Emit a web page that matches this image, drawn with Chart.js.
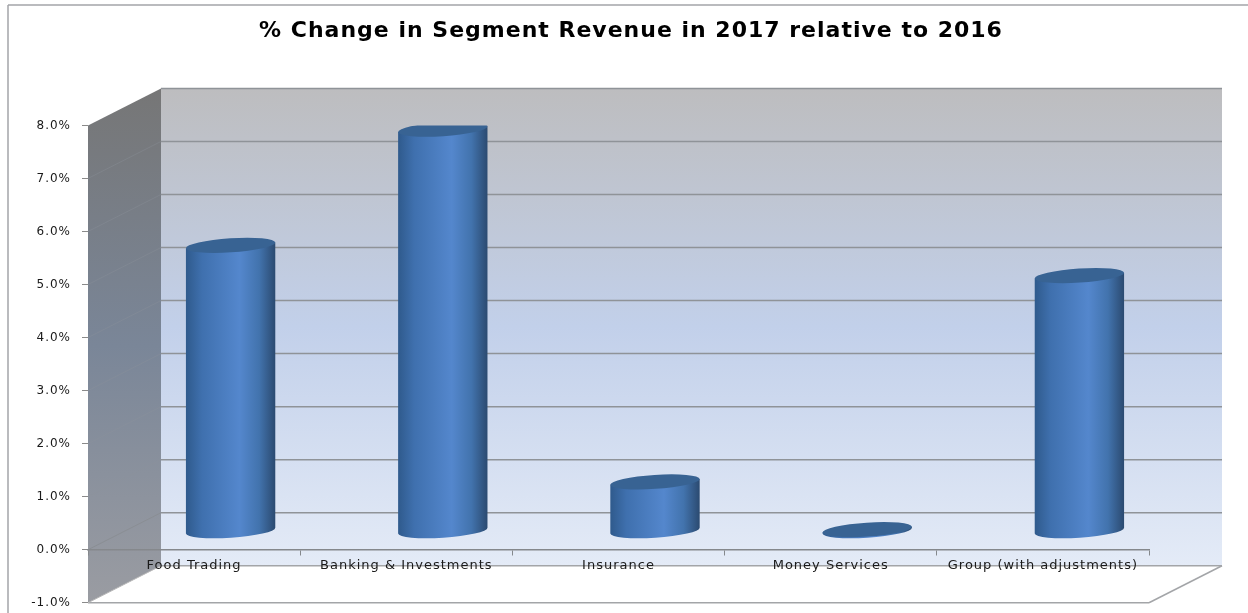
<!DOCTYPE html>
<html>
<head>
<meta charset="utf-8">
<title>Segment revenue</title>
<script src="https://cdn.jsdelivr.net/npm/chart.js@4/dist/chart.umd.min.js"></script>
<style>
    html, body { margin: 0; padding: 0; background: #fff; }
    canvas { display: block; }
</style>
</head>
<body>
<canvas id="revenueChart" width="1248" height="613"></canvas>
<script>
const chartTitle = '% Change in Segment Revenue in 2017 relative to 2016';
const categories = ['Food Trading', 'Banking & Investments', 'Insurance', 'Money Services', 'Group (with adjustments)'];
const revenueChange = [5.39, 7.58, 0.93, 0.03, 4.82];
const axisMin = -1;
const axisMax = 8;

// offset of the back wall from the front plane
const depthX = 73;
const depthY = 37;

const lineGrey = '#a3a5a8';
const gridGrey = '#8f9398';
const textSpacing = '1px';

function line(ctx, x1, y1, x2, y2, color, width) {
    ctx.strokeStyle = color;
    ctx.lineWidth = width;
    ctx.beginPath();
    ctx.moveTo(x1, y1);
    ctx.lineTo(x2, y2);
    ctx.stroke();
}

// outer frame, side wall, back wall and floor
const wallsPlugin = {
    id: 'walls',
    afterLayout(chart) {
        // title is centred on the whole page, not on the plot
        chart.titleBlock.left = 14;
        chart.titleBlock.right = chart.width;
    },
    beforeDraw(chart) {
        const ctx = chart.ctx;
        const area = chart.chartArea;
        const y = chart.scales.y;
        const backTop = area.top - depthY;
        const backBottom = area.bottom - depthY;
        const backLeft = area.left + depthX;
        const backRight = area.right + depthX;

        ctx.letterSpacing = textSpacing;

        ctx.save();
        line(ctx, 8, 5, chart.width, 5, lineGrey, 1.5);
        line(ctx, 8, 5, 8, chart.height, lineGrey, 1.5);

        let back = ctx.createLinearGradient(0, backTop, 0, backBottom);
        back.addColorStop(0, '#bdbdbf');
        back.addColorStop(0.5, '#c2d0ea');
        back.addColorStop(1, '#e4ebf7');
        ctx.fillStyle = back;
        ctx.fillRect(backLeft, backTop, backRight - backLeft, backBottom - backTop);

        let side = ctx.createLinearGradient(0, backTop, 0, area.bottom);
        side.addColorStop(0, '#767676');
        side.addColorStop(0.5, '#7a8698');
        side.addColorStop(1, '#9a9ca2');
        ctx.fillStyle = side;
        ctx.beginPath();
        ctx.moveTo(area.left, area.top);
        ctx.lineTo(backLeft, backTop);
        ctx.lineTo(backLeft, backBottom);
        ctx.lineTo(area.left, area.bottom);
        ctx.closePath();
        ctx.fill();

        y.ticks.forEach(function (tick) {
            const py = y.getPixelForValue(tick.value);
            if (tick.value > axisMin) {
                line(ctx, backLeft, py - depthY, backRight, py - depthY, gridGrey, 1.5);
            }
            if (tick.value > axisMin && tick.value < axisMax) {
                line(ctx, area.left, py, backLeft, py - depthY, tick.value === 0 ? '#8a8e94' : 'rgba(140,146,155,0.35)', 1);
            }
        });

        // floor outline
        line(ctx, backLeft, backBottom, backRight, backBottom, lineGrey, 1.5);
        line(ctx, backRight, backBottom, area.right, area.bottom, lineGrey, 1.5);
        line(ctx, area.left, area.bottom, area.right, area.bottom, lineGrey, 1.5);
        line(ctx, area.left, area.bottom, backLeft, backBottom, '#b8b8b8', 1);
        ctx.restore();
    }
};

// bars are drawn as upright cylinders standing mid-way through the depth
class CylinderElement extends Chart.BarElement {
    draw(ctx) {
        const rx = this.width / 2;
        const ry = 7;
        const tilt = -0.065;
        const cx = this.x + depthX / 2;
        const topY = this.y - depthY / 2;
        const baseY = this.base - depthY / 2;
        const dx = rx * Math.cos(tilt);
        const dy = rx * Math.sin(tilt);

        ctx.save();
        let body = ctx.createLinearGradient(cx - rx, 0, cx + rx, 0);
        body.addColorStop(0, '#2f5a8c');
        body.addColorStop(0.18, '#3f70ae');
        body.addColorStop(0.6, '#5487cd');
        body.addColorStop(0.82, '#4273ad');
        body.addColorStop(1, '#2b4a70');
        ctx.fillStyle = body;
        ctx.beginPath();
        ctx.moveTo(cx - dx, topY - dy);
        ctx.lineTo(cx - dx, baseY - dy);
        ctx.ellipse(cx, baseY, rx, ry, tilt, Math.PI, 0, true);
        ctx.lineTo(cx + dx, topY + dy);
        ctx.closePath();
        ctx.fill();

        ctx.fillStyle = '#386393';
        ctx.beginPath();
        ctx.ellipse(cx, topY, rx, ry, tilt, 0, Math.PI * 2);
        ctx.fill();
        ctx.restore();
    }
}
CylinderElement.id = 'cylinder';
CylinderElement.defaults = Chart.BarElement.defaults;
CylinderElement.defaultRoutes = Chart.BarElement.defaultRoutes;

class CylinderController extends Chart.BarController {}
CylinderController.id = 'cylinderBar';
CylinderController.defaults = Object.assign({}, Chart.BarController.defaults, { dataElementType: 'cylinder' });
CylinderController.overrides = Chart.BarController.overrides;

Chart.register(Chart.BarController, Chart.BarElement, CylinderElement, CylinderController);

const context = document.getElementById('revenueChart').getContext('2d');
context.letterSpacing = textSpacing;

new Chart(context, {
    type: 'cylinderBar',
    data: {
        labels: categories,
        datasets: [{
            data: revenueChange,
            barPercentage: 0.422,
            categoryPercentage: 1
        }]
    },
    options: {
        responsive: false,
        animation: false,
        layout: { padding: { left: 0, right: 99, bottom: 10.25, top: 0 } },
        plugins: {
            legend: { display: false },
            tooltip: { enabled: false },
            title: {
                display: true,
                text: chartTitle,
                color: '#000',
                font: { family: '"DejaVu Sans"', size: 22, weight: 'bold' },
                padding: { top: 18, bottom: 81 }
            }
        },
        scales: {
            x: {
                type: 'category',
                position: { y: 0 },
                grid: { drawOnChartArea: false, drawTicks: true, tickLength: 5, color: '#85888c' },
                border: { display: true, color: '#85888c', width: 1.5 },
                ticks: {
                    color: '#1a1a1a',
                    font: { family: '"DejaVu Sans"', size: 13 },
                    padding: 3,
                    maxRotation: 0,
                    autoSkip: false
                }
            },
            y: {
                min: axisMin,
                max: axisMax,
                afterFit(scale) {
                    scale.width = 88;
                    scale.paddingTop = 0;
                    scale.paddingBottom = 0;
                },
                grid: { drawOnChartArea: false, drawTicks: true, tickLength: 6, color: '#8a8a8a' },
                border: { display: false },
                ticks: {
                    stepSize: 1,
                    color: '#1a1a1a',
                    padding: 11,
                    font: { family: '"DejaVu Sans"', size: 12 },
                    callback: function (value) { return value.toFixed(1) + '%'; }
                }
            }
        }
    },
    plugins: [wallsPlugin]
});
</script>
</body>
</html>
